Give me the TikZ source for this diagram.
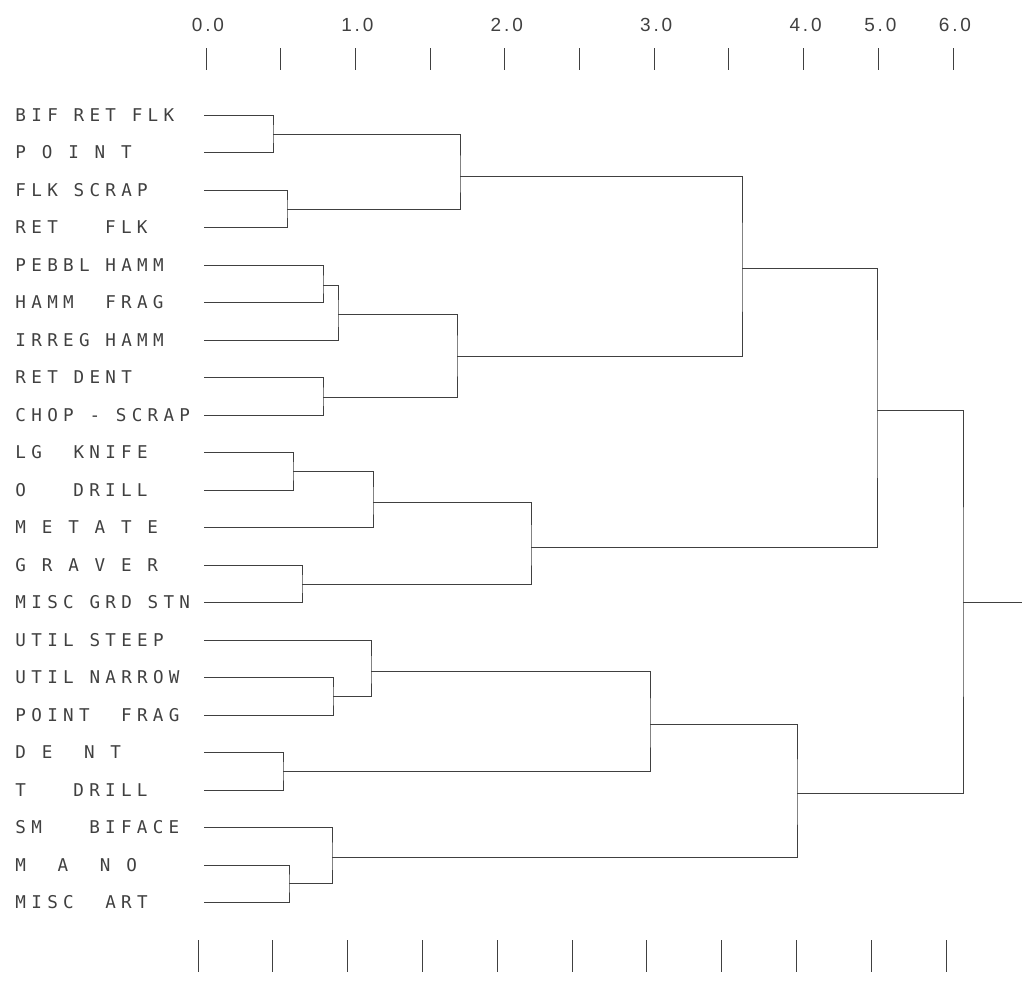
\documentclass[tikz,border=0pt]{standalone}
\usepackage{fontspec}
\newfontfamily\plotfont[LetterSpace=30]{DejaVu Sans Mono}
\newfontfamily\axisfont[LetterSpace=15]{Liberation Sans}
\colorlet{ink}{black!75}
\newcommand\skipcell{\hspace{7.9pt}}

\begin{document}
\begin{tikzpicture}[x=0.5pt,y=-0.5pt,line width=0.5pt]
  \useasboundingbox (0,0) rectangle (1029,982);

  \begin{scope}[every node/.style={anchor=west,inner sep=0pt,text width=94pt,align=left,text=ink,font={\plotfont\fontsize{8.8}{10}\selectfont}}]
    \node (1)  at (15,115)   {BIF\skipcell RET\skipcell FLK};
    \node (2)  at (15,152.5) {P\skipcell O\skipcell I\skipcell N\skipcell T};
    \node (3)  at (15,190)   {FLK\skipcell SCRAP};
    \node (4)  at (15,227.5) {RET\skipcell\skipcell\skipcell FLK};
    \node (5)  at (15,265)   {PEBBL\skipcell HAMM};
    \node (6)  at (15,302.5) {HAMM\skipcell\skipcell FRAG};
    \node (7)  at (15,340)   {IRREG\skipcell HAMM};
    \node (8)  at (15,377.5) {RET\skipcell DENT};
    \node (9)  at (15,415)   {CHOP\skipcell -\skipcell SCRAP};
    \node (10) at (15,452.5) {LG\skipcell\skipcell KNIFE};
    \node (11) at (15,490)   {O\skipcell\skipcell\skipcell DRILL};
    \node (12) at (15,527.5) {M\skipcell E\skipcell T\skipcell A\skipcell T\skipcell E};
    \node (13) at (15,565)   {G\skipcell R\skipcell A\skipcell V\skipcell E\skipcell R};
    \node (14) at (15,602.5) {MISC\skipcell GRD\skipcell STN};
    \node (15) at (15,640)   {UTIL\skipcell STEEP};
    \node (16) at (15,677.5) {UTIL\skipcell NARROW};
    \node (17) at (15,715)   {POINT\skipcell\skipcell FRAG};
    \node (18) at (15,752.5) {D\skipcell E\skipcell\skipcell N\skipcell T};
    \node (19) at (15,790)   {T\skipcell\skipcell\skipcell DRILL};
    \node (20) at (15,827.5) {SM\skipcell\skipcell\skipcell BIFACE};
    \node (21) at (15,865)   {M\skipcell\skipcell A\skipcell\skipcell N\skipcell O};
    \node (22) at (15,902.5) {MISC\skipcell\skipcell ART};
  \end{scope}

  % merge points
  \coordinate (m1)  at (273,134);
  \coordinate (m2)  at (287,209);
  \coordinate (m3)  at (460,176);
  \coordinate (m4)  at (323,285);
  \coordinate (m5)  at (338,314);
  \coordinate (m6)  at (323,397);
  \coordinate (m7)  at (457,356);
  \coordinate (m8)  at (742,268);
  \coordinate (m9)  at (293,471);
  \coordinate (m10) at (373,502);
  \coordinate (m11) at (302,584);
  \coordinate (m12) at (531,547);
  \coordinate (m13) at (877,410);
  \coordinate (m14) at (333,696);
  \coordinate (m15) at (371,671);
  \coordinate (m16) at (283,771);
  \coordinate (m17) at (650,724);
  \coordinate (m18) at (289,883);
  \coordinate (m19) at (332,857);
  \coordinate (m20) at (797,793);
  \coordinate (m21) at (963,602);
  \coordinate (root) at (1022,602);

  \begin{scope}[draw=ink]
    \draw (1.east) -| (m1) |- (2.east);
    \draw (3.east) -| (m2) |- (4.east);
    \draw (m1) -| (m3) |- (m2);
    \draw (5.east) -| (m4) |- (6.east);
    \draw (m4) -| (m5) |- (7.east);
    \draw (8.east) -| (m6) |- (9.east);
    \draw (m5) -| (m7) |- (m6);
    \draw (m3) -| (m8) |- (m7);
    \draw (10.east) -| (m9) |- (11.east);
    \draw (m9) -| (m10) |- (12.east);
    \draw (13.east) -| (m11) |- (14.east);
    \draw (m10) -| (m12) |- (m11);
    \draw (m8) -| (m13) |- (m12);
    \draw (16.east) -| (m14) |- (17.east);
    \draw (15.east) -| (m15) |- (m14);
    \draw (18.east) -| (m16) |- (19.east);
    \draw (m15) -| (m17) |- (m16);
    \draw (21.east) -| (m18) |- (22.east);
    \draw (20.east) -| (m19) |- (m18);
    \draw (m17) -| (m20) |- (m19);
    \draw (m13) -| (m21) |- (m20);
    \draw (m21) -- (root);
  \end{scope}

  % scale
  \foreach \k in {0,...,10} {
    \draw[ink] (206+74.7*\k,48) -- (206+74.7*\k,70);
    \draw[ink] (198+74.8*\k,940) -- (198+74.8*\k,972);
  }
  \foreach \k/\v in {0/0.0,2/1.0,4/2.0,6/3.0,8/4.0,9/5.0,10/6.0}
    \node[text=ink,font={\axisfont\fontsize{9.5}{11}\selectfont},inner sep=0pt] (s\k) at (208+74.7*\k,25) {\v};
\end{tikzpicture}
\end{document}
